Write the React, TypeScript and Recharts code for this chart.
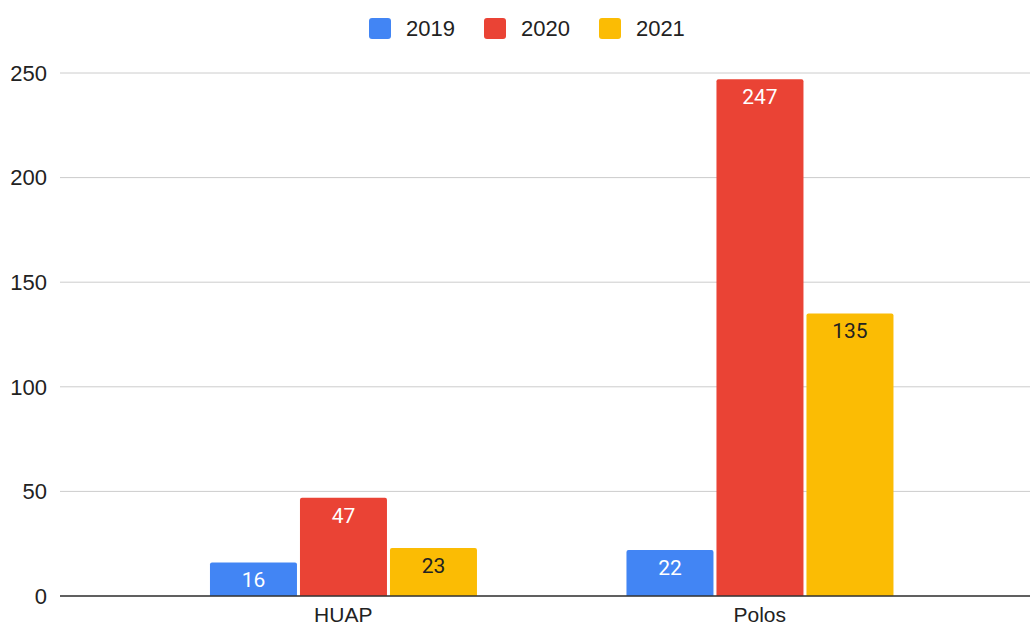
import { BarChart, Bar, XAxis, YAxis, CartesianGrid, LabelList } from "recharts";

const categories = ["HUAP", "Polos"];
const values2019 = [16, 22];
const values2020 = [47, 247];
const values2021 = [23, 135];
const yTicks = [0, 50, 100, 150, 200, 250];

const series = [
    { key: "2019", color: "#4285F4", labelColor: "#ffffff" },
    { key: "2020", color: "#EA4335", labelColor: "#ffffff" },
    { key: "2021", color: "#FBBC04", labelColor: "#222222" },
];

const data = categories.map((name, i) => ({
    name,
    "2019": values2019[i],
    "2020": values2020[i],
    "2021": values2021[i],
}));

const AXIS_FONT = "Arial, 'Liberation Sans', sans-serif";
const LABEL_FONT = "Roboto, Arial, sans-serif";

function ChartLegend() {
    return (
        <div
            style={{
                position: "absolute",
                top: 18,
                left: 369,
                display: "flex",
                alignItems: "center",
                fontFamily: AXIS_FONT,
                fontSize: 22,
                color: "#222",
                lineHeight: "21px",
            }}
        >
            {series.map((s, i) => (
                <div key={s.key} style={{ display: "flex", alignItems: "center", marginLeft: i === 0 ? 0 : 29 }}>
                    <span style={{ width: 22, height: 21, background: s.color, borderRadius: 3, display: "inline-block", marginRight: 15 }} />
                    <span>{s.key}</span>
                </div>
            ))}
        </div>
    );
}

export default function App() {
    return (
        <div style={{ position: "absolute", left: 0, top: 0, width: 1030, height: 626, background: "#fff" }}>
            <BarChart
                width={1030}
                height={626}
                data={data}
                margin={{ top: 73, right: 0, left: 0, bottom: 0 }}
                barGap={3}
                barCategoryGap="18%"
            >
                <CartesianGrid vertical={false} stroke="#cccccc" strokeWidth={1} />
                <XAxis
                    dataKey="name"
                    height={30}
                    tickLine={false}
                    axisLine={{ stroke: "#333333", strokeWidth: 1.5 }}
                    padding={{ left: 75, right: 62 }}
                    tick={{ fill: "#222", fontSize: 21, fontFamily: AXIS_FONT }}
                    tickMargin={5}
                />
                <YAxis
                    width={60}
                    domain={[0, 250]}
                    ticks={yTicks}
                    tickLine={false}
                    axisLine={false}
                    tickSize={0}
                    tickMargin={13}
                    tick={{ fill: "#222", fontSize: 22, fontFamily: AXIS_FONT }}
                />
                {series.map((s) => (
                    <Bar key={s.key} dataKey={s.key} fill={s.color} radius={[2, 2, 0, 0]} isAnimationActive={false}>
                        <LabelList
                            dataKey={s.key}
                            position="insideTop"
                            offset={10}
                            fill={s.labelColor}
                            style={{ fontSize: 21, fontFamily: LABEL_FONT }}
                        />
                    </Bar>
                ))}
            </BarChart>
            <ChartLegend />
        </div>
    );
}
